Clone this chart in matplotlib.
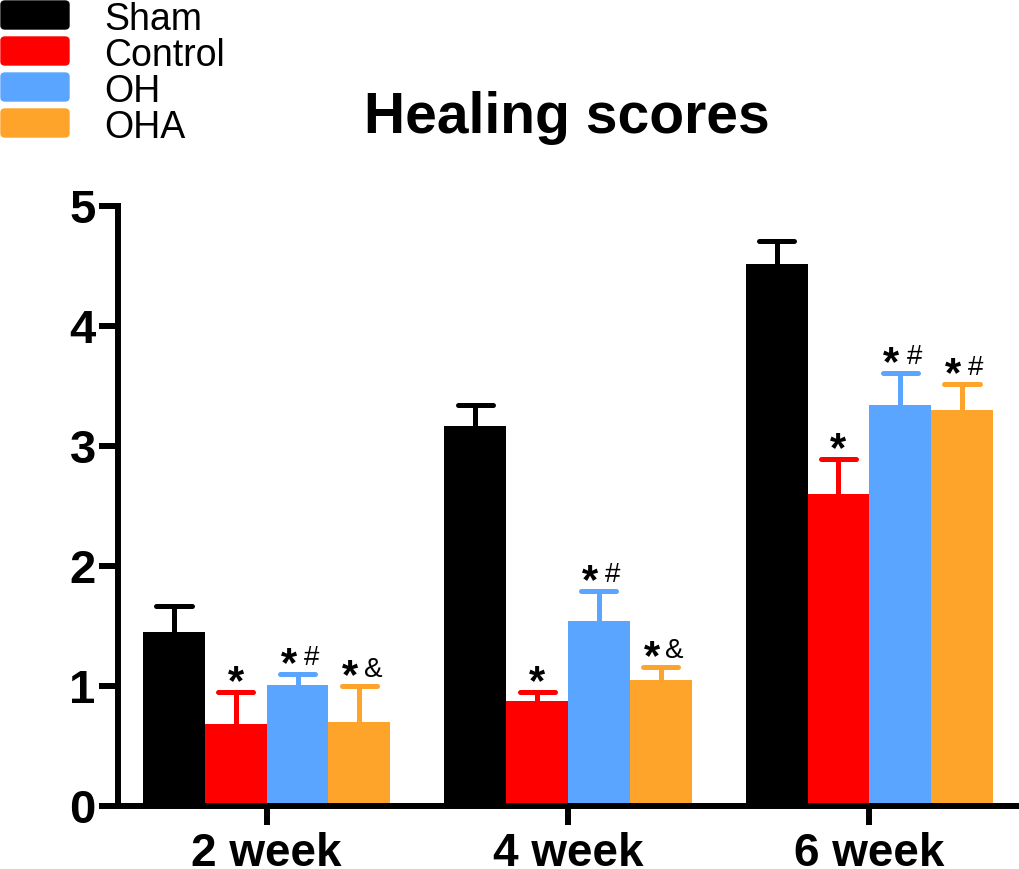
import matplotlib.pyplot as plt
from matplotlib.patches import FancyBboxPatch
import numpy as np

plt.rcParams['font.family'] = ['Liberation Sans', 'DejaVu Sans']

# dane
groups = ['2 week', '4 week', '6 week']
series = ['Sham', 'Control', 'OH', 'OHA']
colors = ['#000000', '#ff0000', '#5aa5ff', '#ffa42a']
means = {
    'Sham': [1.45, 3.17, 4.52],
    'Control': [0.68, 0.875, 2.60],
    'OH': [1.01, 1.54, 3.34],
    'OHA': [0.70, 1.05, 3.30],
}
errors = {
    'Sham': [0.22, 0.17, 0.19],
    'Control': [0.27, 0.075, 0.29],
    'OH': [0.09, 0.25, 0.27],
    'OHA': [0.30, 0.11, 0.22],
}
# oznaczenia istotności nad słupkami (gwiazdka + dodatkowy znak)
marks = {
    'Sham': ['', '', ''],
    'Control': ['', '', ''],
    'OH': ['#', '#', '#'],
    'OHA': ['&', '&', '#'],
}
starred = ['Control', 'OH', 'OHA']

W, H = 1020, 869
fig = plt.figure(figsize=(W / 100, H / 100), dpi=100)
ax = fig.add_axes([118 / W, 1 - 806 / H, 902 / W, 600 / H])

px = 3.0 / 902  # jeden piksel w jednostkach osi x
py = 5.0 / 600  # jeden piksel w jednostkach osi y

x = np.arange(len(groups))
width = 0.205
cap = 17.5 * px
for k, name in enumerate(series):
    pos = x + (k - 1.5) * width
    ax.bar(pos, means[name], width, color=colors[k], edgecolor='none', zorder=2)
    tops = np.array(means[name]) + np.array(errors[name])
    ax.vlines(pos, means[name], tops, color=colors[k], lw=3.6, zorder=1)
    ax.hlines(tops, pos - cap, pos + cap, color=colors[k], lw=3.6,
              capstyle='round', zorder=1)
    if name in starred:
        for i in range(len(groups)):
            ytop = tops[i] + 29 * py
            extra = marks[name][i]
            sx = pos[i] - 9 * px if extra else pos[i]
            ax.text(sx, ytop, '*', ha='center', va='top', fontsize=30,
                    fontweight='bold')
            if extra:
                ax.text(pos[i] + 14 * px, ytop, extra, ha='center', va='top',
                        fontsize=20)

ax.set_xlim(-0.5 + 2 * px, 2.5)
ax.set_ylim(0, 5)
ax.set_yticks([0, 1, 2, 3, 4, 5])
ax.set_xticks(x)
ax.set_xticklabels(groups, fontsize=33, fontweight='bold')
for lab in ax.get_yticklabels():
    lab.set_fontsize(34)
    lab.set_fontweight('bold')
ax.tick_params(axis='both', length=14, width=4.3)
ax.tick_params(axis='y', pad=2)
ax.tick_params(axis='x', pad=5)
ax.spines['top'].set_visible(False)
ax.spines['right'].set_visible(False)
ax.spines['left'].set_linewidth(4.3)
ax.spines['bottom'].set_linewidth(4.3)
ax.spines['left'].set_bounds(0, 5)

fig.text(567 / W, 1 - 133 / H, 'Healing scores', ha='center', va='baseline',
         fontsize=41, fontweight='bold')

# legenda rysowana ręcznie w lewym górnym rogu
for k, name in enumerate(series):
    top = 36 * k
    fig.add_artist(FancyBboxPatch((1 / W, 1 - (top + 29) / H), 68 / W, 28 / H,
                                  boxstyle='round,pad=0.0,rounding_size=0.004',
                                  transform=fig.transFigure, color=colors[k]))
    fig.text(104 / W, 1 - (top + 30) / H, name, ha='left', va='baseline', fontsize=27)

fig.savefig('out.png', dpi=100)
